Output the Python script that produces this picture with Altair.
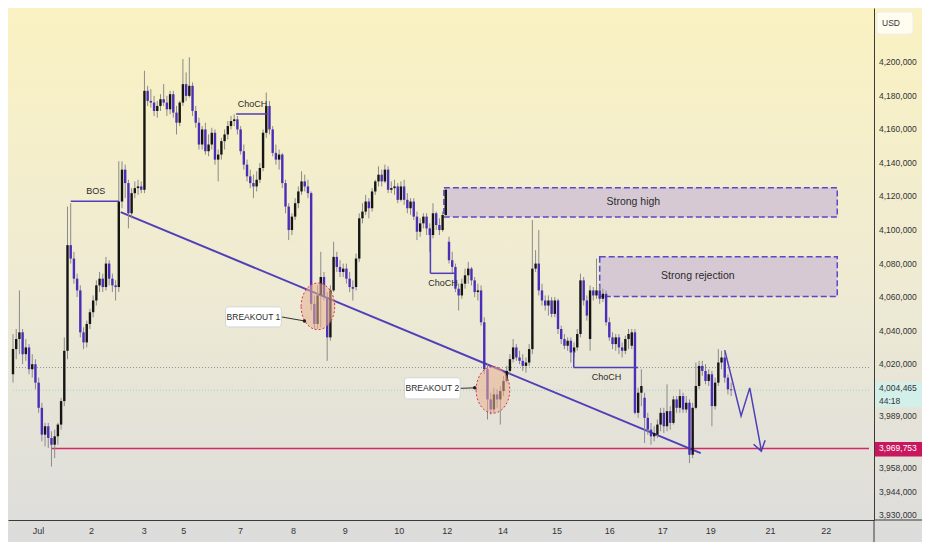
import altair as alt
import pandas as pd

# ---------------- candle data (prices in thousands of USD) ----------------
OPEN_K = [
    4014, 4029, 4035, 4039, 4026, 4030, 4017, 4020, 4009, 3994,
    3978, 3983, 3976, 3972, 3977, 3984, 3998, 4028, 4091, 4083,
    4071, 4064, 4039, 4033, 4044, 4051, 4058, 4067, 4071, 4066,
    4080, 4071, 4067, 4066, 4117, 4136, 4128, 4110, 4122, 4125,
    4126, 4124, 4183, 4177, 4176, 4171, 4174, 4178, 4176, 4172,
    4181, 4170, 4164, 4176, 4187, 4180, 4186, 4171, 4164, 4151,
    4160, 4147, 4151, 4158, 4142, 4145, 4153, 4157, 4162, 4165,
    4166, 4160, 4147, 4139, 4132, 4128, 4126, 4130, 4137, 4158,
    4174, 4160, 4146, 4142, 4145, 4128, 4114, 4100, 4108, 4116,
    4123, 4129, 4126, 4122, 4056, 4044, 4061, 4072, 4060, 4036,
    4064, 4084, 4078, 4075, 4077, 4071, 4066, 4066, 4083, 4107,
    4111, 4117, 4113, 4123, 4129, 4133, 4129, 4136, 4124, 4125,
    4126, 4118, 4126, 4118, 4113, 4117, 4108, 4099, 4104, 4108,
    4101, 4097, 4110, 4103, 4100, 4109, 4093, 4082, 4078, 4065,
    4061, 4068, 4073, 4077, 4070, 4063, 4064, 4045, 4017, 3999,
    3993, 4002, 3999, 4004, 4010, 4016, 4023, 4030, 4024, 4022,
    4019, 4021, 4029, 4077, 4080, 4064, 4058, 4055, 4058, 4050,
    4058, 4041, 4035, 4031, 4034, 4027, 4030, 4038, 4070, 4058,
    4035, 4064, 4061, 4064, 4059, 4062, 4045, 4036, 4032, 4036,
    4030, 4028, 4035, 4031, 4039, 3991, 4003, 4000, 3988, 3981,
    3977, 3978, 3984, 3991, 3983, 3992, 3985, 3999, 3994, 4001,
    3993, 3997, 3966, 3994, 4007, 4019, 4016, 4010, 4014, 3995,
    4009, 4021, 4024, 4012, 4005,
]
CLOSE_K = [
    4029, 4035, 4039, 4026, 4030, 4017, 4020, 4009, 3994, 3978,
    3983, 3976, 3972, 3977, 3984, 3998, 4028, 4091, 4083, 4071,
    4064, 4039, 4033, 4044, 4051, 4058, 4067, 4071, 4066, 4080,
    4071, 4067, 4066, 4117, 4136, 4128, 4110, 4122, 4125, 4126,
    4124, 4183, 4177, 4176, 4171, 4174, 4178, 4176, 4172, 4181,
    4170, 4164, 4176, 4187, 4180, 4186, 4171, 4164, 4151, 4160,
    4147, 4151, 4158, 4142, 4145, 4153, 4157, 4162, 4165, 4166,
    4160, 4147, 4139, 4132, 4128, 4126, 4130, 4137, 4158, 4174,
    4160, 4146, 4142, 4145, 4128, 4114, 4100, 4108, 4116, 4123,
    4129, 4126, 4122, 4056, 4044, 4061, 4072, 4060, 4036, 4064,
    4084, 4078, 4075, 4077, 4071, 4066, 4065, 4083, 4107, 4111,
    4117, 4113, 4123, 4129, 4133, 4129, 4136, 4124, 4125, 4126,
    4118, 4126, 4118, 4113, 4117, 4108, 4099, 4104, 4108, 4101,
    4097, 4110, 4103, 4100, 4109, 4124, 4082, 4078, 4065, 4061,
    4068, 4073, 4077, 4070, 4063, 4064, 4045, 4017, 3999, 3993,
    4002, 3999, 4004, 4010, 4016, 4023, 4030, 4024, 4022, 4019,
    4021, 4029, 4077, 4080, 4064, 4058, 4055, 4058, 4050, 4058,
    4041, 4035, 4031, 4034, 4027, 4030, 4038, 4070, 4058, 4049,
    4064, 4061, 4064, 4059, 4062, 4045, 4036, 4032, 4036, 4030,
    4028, 4035, 4038, 4039, 3991, 4003, 4007, 3988, 3981, 3977,
    3979, 3984, 3991, 3983, 3992, 3985, 3999, 3994, 4001, 3993,
    3997, 3966, 3994, 4007, 4019, 4016, 4010, 4014, 3995, 4009,
    4021, 4024, 4012, 4005, 4004.465,
]
HIGH_K = [
    4038, 4041, 4064, 4041, 4035, 4032, 4026, 4023, 4012, 3997,
    3985, 3985, 3980, 3981, 3985, 4000, 4036, 4114, 4116, 4087,
    4074, 4067, 4042, 4046, 4053, 4061, 4070, 4075, 4074, 4084,
    4082, 4074, 4070, 4141, 4141, 4139, 4130, 4125, 4129, 4130,
    4129, 4195, 4186, 4184, 4180, 4177, 4181, 4187, 4180, 4183,
    4183, 4174, 4177, 4202, 4194, 4203, 4188, 4174, 4167, 4162,
    4164, 4157, 4161, 4160, 4148, 4155, 4160, 4165, 4168, 4169,
    4168, 4162, 4151, 4142, 4136, 4133, 4135, 4140, 4160, 4182,
    4177, 4162, 4151, 4148, 4146, 4130, 4116, 4110, 4119, 4126,
    4135, 4133, 4130, 4123, 4061, 4067, 4087, 4075, 4063, 4067,
    4093, 4087, 4082, 4080, 4080, 4075, 4070, 4086, 4110, 4116,
    4121, 4119, 4125, 4130, 4138, 4136, 4139, 4138, 4129, 4130,
    4128, 4129, 4130, 4122, 4119, 4119, 4111, 4107, 4110, 4110,
    4104, 4116, 4111, 4107, 4111, 4125, 4096, 4087, 4080, 4068,
    4071, 4077, 4081, 4078, 4072, 4068, 4067, 4048, 4020, 4003,
    4006, 4005, 4007, 4013, 4019, 4026, 4035, 4032, 4028, 4026,
    4024, 4032, 4106, 4088, 4100, 4068, 4061, 4061, 4060, 4060,
    4059, 4043, 4038, 4036, 4036, 4033, 4041, 4074, 4072, 4061,
    4067, 4066, 4083, 4067, 4065, 4064, 4048, 4039, 4038, 4038,
    4033, 4037, 4041, 4041, 4041, 4006, 4017, 4003, 3991, 3985,
    3983, 3987, 3994, 3994, 4008, 3995, 4001, 4001, 4005, 4003,
    4001, 3999, 3997, 4021, 4022, 4022, 4020, 4017, 4016, 4012,
    4029, 4028, 4027, 4014, 4009,
]
LOW_K = [
    4009, 4023, 4026, 4020, 4022, 4014, 4012, 4005, 3991, 3974,
    3971, 3970, 3959, 3964, 3972, 3981, 3995, 4023, 4080, 4068,
    4060, 4036, 4029, 4030, 4041, 4048, 4055, 4063, 4063, 4064,
    4067, 4063, 4058, 4063, 4113, 4119, 4101, 4107, 4119, 4121,
    4122, 4122, 4174, 4173, 4168, 4167, 4171, 4174, 4168, 4169,
    4167, 4157, 4162, 4174, 4177, 4179, 4168, 4161, 4148, 4148,
    4145, 4144, 4148, 4139, 4129, 4142, 4148, 4154, 4160, 4162,
    4157, 4145, 4136, 4129, 4125, 4119, 4123, 4128, 4135, 4155,
    4157, 4144, 4139, 4136, 4125, 4110, 4094, 4097, 4106, 4113,
    4121, 4123, 4119, 4052, 4041, 4041, 4042, 4058, 4022, 4034,
    4063, 4075, 4072, 4072, 4068, 4063, 4058, 4064, 4081, 4104,
    4109, 4107, 4111, 4121, 4126, 4126, 4128, 4122, 4122, 4121,
    4116, 4117, 4115, 4110, 4109, 4106, 4094, 4096, 4101, 4097,
    4087, 4095, 4100, 4097, 4099, 4107, 4080, 4074, 4063, 4052,
    4059, 4065, 4068, 4067, 4060, 4058, 4043, 4014, 3987, 3990,
    3991, 3994, 3984, 4001, 4009, 4014, 4021, 4022, 4020, 4016,
    4015, 4019, 4026, 4075, 4061, 4055, 4052, 4049, 4048, 4048,
    4038, 4032, 4029, 4028, 4021, 4024, 4028, 4036, 4055, 4046,
    4028, 4058, 4059, 4056, 4057, 4043, 4034, 4029, 4028, 4026,
    4024, 4026, 4029, 4029, 3990, 3988, 3995, 3973, 3978, 3972,
    3974, 3976, 3980, 3979, 3980, 3981, 3984, 3991, 3991, 3991,
    3991, 3961, 3964, 3993, 4005, 4013, 4008, 4007, 3983, 3993,
    4007, 4017, 4009, 4002, 4001,
]

# ---------------- axis labels ----------------
DATE_POS = [7.8, 24.3, 40.8, 53.1, 70.8, 87.3, 103.5, 120.3, 135.3,
            152.7, 169.5, 186.0, 202.5, 217.5, 236.1, 253.5]
DATE_LBL = ["Jul", "2", "3", "5", "7", "8", "9", "10", "12",
            "14", "15", "16", "17", "19", "21", "22"]
PRICE_TICKS = [4200000, 4180000, 4160000, 4140000, 4120000, 4100000,
               4080000, 4060000, 4040000, 4020000, 3989000, 3972000,
               3958000, 3944000, 3930000]

# ---------------- annotations (bar index, price in thousands) ----------------
SUPPORT_K = 3969.753
LAST_K = 4004.465
PREV_CLOSE_K = 4018.0
SEG_X1 = [18.0, 69.6, 130.2, 130.2, 174.9, 174.9]
SEG_Y1 = [4117.1, 4169.2, 4098.0, 4074.2, 4027.9, 4018.0]
SEG_X2 = [33.0, 79.5, 130.2, 138.0, 174.9, 195.0]
SEG_Y2 = [4117.1, 4169.2, 4074.2, 4074.2, 4018.0, 4018.0]
TREND_X = [33.6, 214.5]
TREND_Y = [4110.7, 3967.0]
LABEL_TXT = ["BOS", "ChoCH", "ChoCH", "ChoCH"]
LABEL_X = [25.8, 74.7, 134.1, 185.1]
LABEL_Y = [4123.5, 4175.0, 4068.4, 4012.2]
ZONE_TXT = ["Strong high", "Strong rejection"]
ZONE_X1 = [134.4, 183.0]
ZONE_X2 = [257.1, 257.1]
ZONE_TOP = [4125.2, 4084.1]
ZONE_BOT = [4107.8, 4060.3]
ZONE_TX = [193.5, 213.6]
ZONE_TY = [4116.5, 4072.5]
CIRCLE_X = [95.1, 149.7]
CIRCLE_Y = [4054.5, 4004.7]
BO_TXT = ["BREAKOUT 1", "BREAKOUT 2"]
BO_X1 = [66.3, 122.1]
BO_X2 = [83.7, 139.5]
BO_TOP = [4054.2, 4011.9]
BO_BOT = [4042.2, 3999.3]
BO_LINE_X2 = [90.9, 144.0]
BO_LINE_Y2 = [4045.8, 4005.9]
PROJ_X = [222.0, 227.1, 229.8, 233.4]
PROJ_Y = [4028.4, 3989.1, 4005.9, 3968.8]
HEAD_X = [231.0, 233.4, 234.6]
HEAD_Y = [3972.3, 3968.2, 3974.6]

# ---------------- layout ----------------
W, H = 866, 512
X_MAX = 267
Y_MIN, Y_MAX = 3927100, 4232400
FONT = "Liberation Sans, Arial, sans-serif"
PURPLE = "#4f3fb8"
K = 1000

xscale = alt.Scale(domain=[0, X_MAX], nice=False, zero=False)
yscale = alt.Scale(domain=[Y_MIN, Y_MAX], nice=False, zero=False)
xaxis = alt.Axis(values=DATE_POS, title=None, grid=False, ticks=False, zindex=1,
                 labelExpr=f"{DATE_LBL}[indexof({DATE_POS}, datum.value)]",
                 domainColor="#3a3a3a", domainWidth=1, labelFont=FONT,
                 labelFontSize=9, labelColor="#333333", labelPadding=6,
                 labelOverlap=False, labelFlush=False)
yaxis = alt.Axis(orient="right", values=PRICE_TICKS, title=None, labels=False,
                 grid=False, ticks=False, zindex=1, domainColor="#3a3a3a",
                 domainWidth=1)


def X(f):
    return alt.X(f"{f}:Q", scale=xscale, axis=xaxis)


def Y(f):
    return alt.Y(f"{f}:Q", scale=yscale, axis=yaxis)


n = len(CLOSE_K)
candles = pd.DataFrame({
    "i": list(range(n)),
    "o": [v * K for v in OPEN_K],
    "c": [v * K for v in CLOSE_K],
    "h": [v * K for v in HIGH_K],
    "l": [v * K for v in LOW_K],
})
candles["dir"] = ["up" if c >= o else "down" for o, c in zip(candles.o, candles.c)]

bg = alt.Chart(pd.DataFrame({"a": [0]})).mark_rect(
    color=alt.Gradient(gradient="linear", x1=0, x2=0, y1=0, y2=1, stops=[
        alt.GradientStop(color="#faf2c2", offset=0),
        alt.GradientStop(color="#efebd3", offset=0.5),
        alt.GradientStop(color="#dcdcdc", offset=1),
    ])
).encode(x=alt.value(0), x2=alt.value(W + 48), y=alt.value(0), y2=alt.value(H + 22))

# frame lines continuing into the axis panels
frame = alt.Chart(pd.DataFrame({"a": [0]}))
frame_bottom = frame.mark_rule(color="#3a3a3a", strokeWidth=1).encode(
    x=alt.value(W), x2=alt.value(W + 48), y=alt.value(H))
frame_right = frame.mark_rule(color="#3a3a3a", strokeWidth=1).encode(
    x=alt.value(W), y=alt.value(H), y2=alt.value(H + 22))

hlines = pd.DataFrame({
    "x": [0, 0, 12.0],
    "x2": [X_MAX, X_MAX, X_MAX],
    "y": [PREV_CLOSE_K * K, LAST_K * K, SUPPORT_K * K],
    "kind": ["prev", "last", "support"],
})
prev_line = alt.Chart(hlines[hlines.kind == "prev"]).mark_rule(
    color="#8f8f8f", strokeDash=[1, 2], strokeWidth=1
).encode(x=X("x"), x2=alt.X2("x2"), y=Y("y"))
last_line = alt.Chart(hlines[hlines.kind == "last"]).mark_rule(
    color="#9fd3cc", strokeDash=[1, 2], strokeWidth=1
).encode(x=X("x"), x2=alt.X2("x2"), y=Y("y"))
support_line = alt.Chart(hlines[hlines.kind == "support"]).mark_rule(
    color="#d4286a", strokeWidth=1.6
).encode(x=X("x"), x2=alt.X2("x2"), y=Y("y"))

zones = pd.DataFrame({
    "x": ZONE_X1, "x2": ZONE_X2,
    "y": [v * K for v in ZONE_TOP], "y2": [v * K for v in ZONE_BOT],
    "tx": ZONE_TX, "ty": [v * K for v in ZONE_TY], "t": ZONE_TXT,
})
zone_rect = alt.Chart(zones).mark_rect(
    fill="#d7c9d4", stroke="#5a47c9", strokeDash=[6, 3], strokeWidth=1.5
).encode(x=X("x"), x2=alt.X2("x2"), y=Y("y"), y2=alt.Y2("y2"))
zone_text = alt.Chart(zones).mark_text(
    font=FONT, fontSize=10.5, color="#2b2b2b"
).encode(x=X("tx"), y=Y("ty"), text="t:N")

trend = pd.DataFrame({"x": [TREND_X[0]], "x2": [TREND_X[1]],
                      "y": [TREND_Y[0] * K], "y2": [TREND_Y[1] * K]})
trend_line = alt.Chart(trend).mark_rule(color=PURPLE, strokeWidth=2).encode(
    x=X("x"), x2=alt.X2("x2"), y=Y("y"), y2=alt.Y2("y2"))

wicks = alt.Chart(candles).mark_rule(color="#8a8a8a", strokeWidth=1).encode(
    x=X("i"), y=Y("l"), y2=alt.Y2("h"))
bodies = alt.Chart(candles).mark_bar(size=2.4, strokeWidth=0).encode(
    x=X("i"), y=Y("o"), y2=alt.Y2("c"),
    color=alt.Color("dir:N", scale=alt.Scale(domain=["up", "down"],
                                             range=["#151515", "#4a2db8"]),
                    legend=None))

segs = pd.DataFrame({"x": SEG_X1, "x2": SEG_X2,
                     "y": [v * K for v in SEG_Y1], "y2": [v * K for v in SEG_Y2]})
seg_lines = alt.Chart(segs).mark_rule(color=PURPLE, strokeWidth=1.5).encode(
    x=X("x"), x2=alt.X2("x2"), y=Y("y"), y2=alt.Y2("y2"))
labels = pd.DataFrame({"x": LABEL_X, "y": [v * K for v in LABEL_Y], "t": LABEL_TXT})
label_text = alt.Chart(labels).mark_text(font=FONT, fontSize=9, color="#2b2b2b").encode(
    x=X("x"), y=Y("y"), text="t:N")

ELLIPSE = "M -0.72 0 A 0.72 1 0 1 1 0.72 0 A 0.72 1 0 1 1 -0.72 0 Z"
circles = pd.DataFrame({"x": CIRCLE_X, "y": [v * K for v in CIRCLE_Y]})
circle_marks = alt.Chart(circles).mark_point(
    shape=ELLIPSE, size=2180, filled=True, fill="#eab08f", fillOpacity=0.55,
    stroke="#d2325a", strokeWidth=1, strokeDash=[2, 2], opacity=1
).encode(x=X("x"), y=Y("y"))

bo = pd.DataFrame({
    "x": BO_X1, "x2": BO_X2,
    "y": [v * K for v in BO_TOP], "y2": [v * K for v in BO_BOT],
    "cx": [(a + b) / 2 for a, b in zip(BO_X1, BO_X2)],
    "cy": [(a + b) / 2 * K for a, b in zip(BO_TOP, BO_BOT)],
    "lx2": BO_LINE_X2, "ly2": [v * K for v in BO_LINE_Y2], "t": BO_TXT,
})
bo_conn = alt.Chart(bo).mark_rule(color="#333333", strokeWidth=1).encode(
    x=X("x2"), x2=alt.X2("lx2"), y=Y("cy"), y2=alt.Y2("ly2"))
bo_dot = alt.Chart(bo).mark_circle(size=12, color="#222222", opacity=1).encode(
    x=X("lx2"), y=Y("ly2"))
bo_box = alt.Chart(bo).mark_rect(
    fill="#ffffff", stroke="#d4d4d4", strokeWidth=1, cornerRadius=3
).encode(x=X("x"), x2=alt.X2("x2"), y=Y("y"), y2=alt.Y2("y2"))
bo_text = alt.Chart(bo).mark_text(font=FONT, fontSize=8.5, color="#2b2b2b").encode(
    x=X("cx"), y=Y("cy"), text="t:N")

proj = pd.DataFrame({
    "x": PROJ_X + HEAD_X,
    "y": [v * K for v in PROJ_Y + HEAD_Y],
    "seg": ["path"] * len(PROJ_X) + ["head"] * len(HEAD_X),
    "ord": list(range(len(PROJ_X))) + list(range(len(HEAD_X))),
})
proj_line = alt.Chart(proj).mark_line(color=PURPLE, strokeWidth=1.5).encode(
    x=X("x"), y=Y("y"), detail="seg:N", order="ord:Q")

# price scale labels drawn as text so the price badges can sit on top of them
ticks_df = pd.DataFrame({"p": PRICE_TICKS, "t": [f"{v:,}" for v in PRICE_TICKS]})
tick_text = alt.Chart(ticks_df).mark_text(
    font=FONT, fontSize=8.5, color="#333333", align="left", baseline="middle"
).encode(x=alt.value(W + 5), y=Y("p"), text="t:N")

badges = pd.DataFrame({
    "y": [4009.3 * K, 3973.6 * K], "y2": [3994.3 * K, 3964.9 * K],
    "kind": ["last", "support"],
})
last_badge = alt.Chart(badges[badges.kind == "last"]).mark_rect(fill="#d3efea").encode(
    x=alt.value(W + 1), x2=alt.value(W + 48), y=Y("y"), y2=alt.Y2("y2"))
sup_badge = alt.Chart(badges[badges.kind == "support"]).mark_rect(fill="#c8175d").encode(
    x=alt.value(W + 1), x2=alt.value(W + 48), y=Y("y"), y2=alt.Y2("y2"))
badge_txt = pd.DataFrame({
    "y": [LAST_K * K + 1500, 3997.9 * K, SUPPORT_K * K],
    "t": ["4,004,465", "44:18", "3,969,753"],
    "c": ["#333333", "#333333", "#ffffff"],
})
badge_text = alt.Chart(badge_txt).mark_text(
    font=FONT, fontSize=8.5, align="left", baseline="middle"
).encode(x=alt.value(W + 5), y=Y("y"), text="t:N",
         color=alt.Color("c:N", scale=None))

usd = alt.Chart(pd.DataFrame({"t": ["USD"]}))
usd_box = usd.mark_rect(fill="#fffdf0", stroke="#eeeeee", cornerRadius=3).encode(
    x=alt.value(W + 3), x2=alt.value(W + 39), y=alt.value(4), y2=alt.value(26))
usd_text = usd.mark_text(font=FONT, fontSize=8.5, color="#333333", align="left").encode(
    x=alt.value(W + 8), y=alt.value(15), text="t:N")

chart = alt.layer(
    bg, frame_bottom, frame_right, prev_line, last_line, zone_rect, zone_text,
    support_line, trend_line, wicks, bodies, seg_lines, label_text,
    circle_marks, bo_conn, bo_dot, bo_box, bo_text, proj_line, tick_text,
    last_badge, sup_badge, badge_text, usd_box, usd_text,
).properties(width=W, height=H, padding=0).configure_view(stroke=None)

chart.save("out.html", embed_options={"renderer": "svg", "actions": False})
